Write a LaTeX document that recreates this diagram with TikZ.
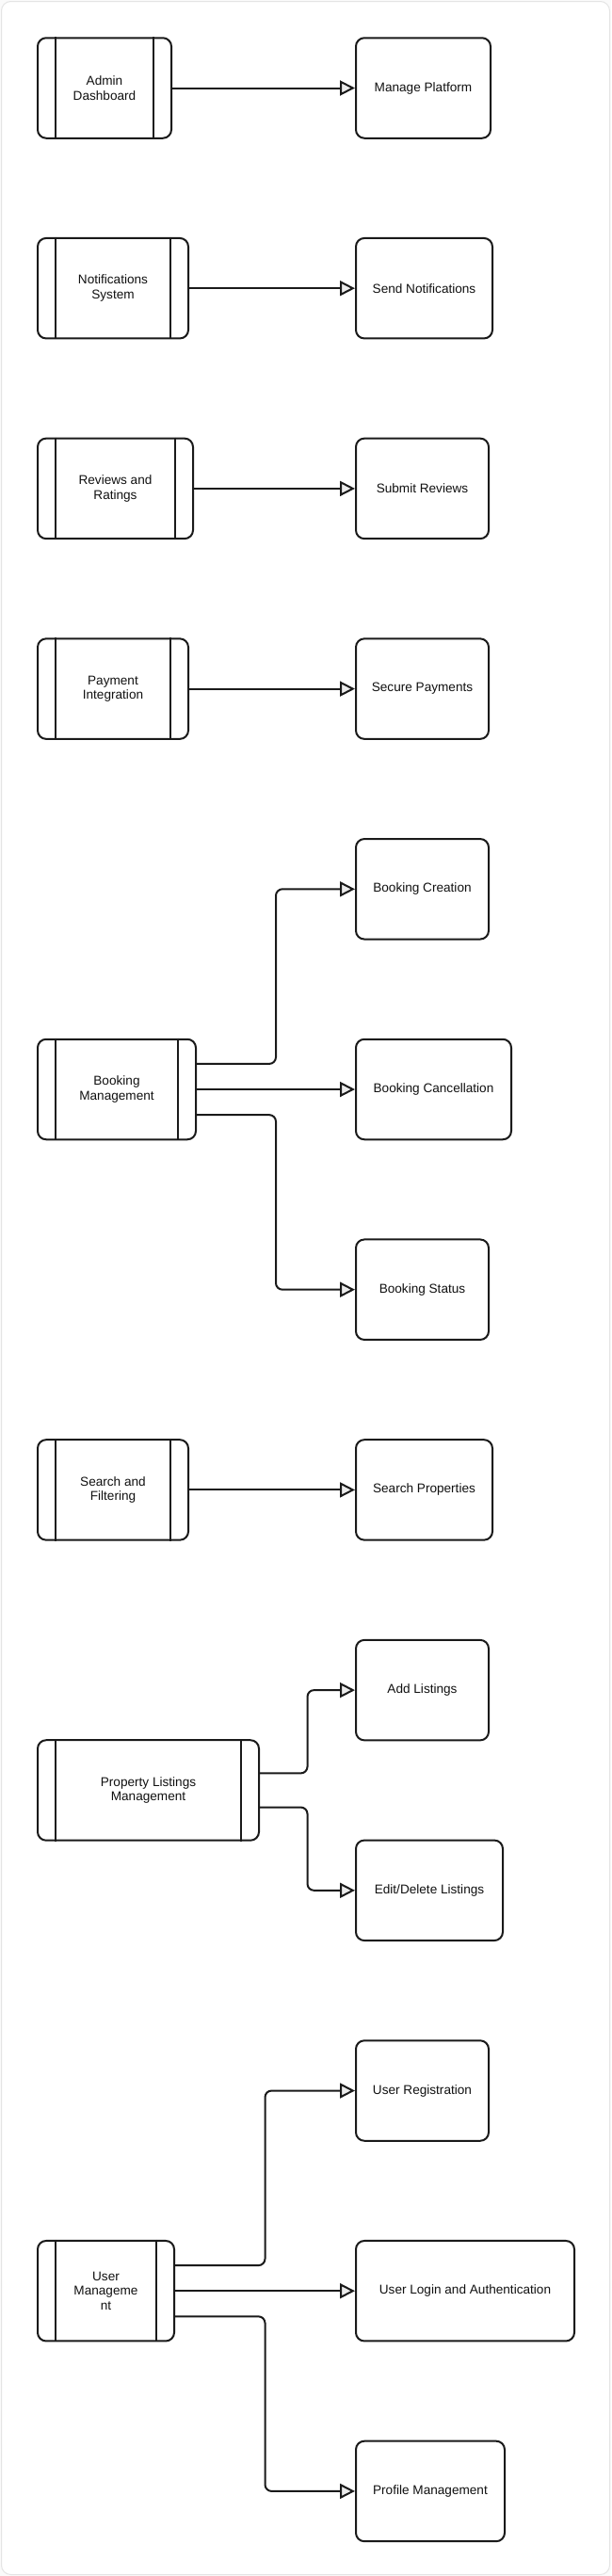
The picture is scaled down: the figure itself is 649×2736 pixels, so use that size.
\documentclass[tikz,border=0pt]{standalone}
\usepackage{fontspec}
\setmainfont{Liberation Sans}
\usetikzlibrary{arrows.meta,calc}
\definecolor{linec}{HTML}{1A1A1A}
\definecolor{textc}{HTML}{111111}
\definecolor{arrowc}{HTML}{EBEBEB}
\definecolor{framec}{HTML}{E4E4E4}
\newcommand\lblfont{\fontsize{13.6}{15.5}\selectfont}
\tikzset{
  procbox/.style={draw=linec, line width=2pt, rounded corners=9pt, fill=white,
    minimum height=106.5pt, inner sep=0pt, align=center, font=\lblfont, text=textc},
  taskbox/.style={draw=linec, line width=2pt, rounded corners=9pt, fill=white,
    minimum height=106.5pt, inner sep=0pt, align=center, font=\lblfont, text=textc},
  innerl/.style={draw=linec, line width=1.6pt},
  conn/.style={draw=linec, line width=2pt, rounded corners=7pt,
    -{Triangle[length=16pt,width=16pt,fill=arrowc,sharp]}}
}
\newcommand\mkproc[4]{%
  \node[procbox, minimum width=#2pt] (#1) at ({40+#2/2},#3) {#4};
  \draw[innerl] ([xshift=20pt]#1.north west) -- ([xshift=20pt]#1.south west);
  \draw[innerl] ([xshift=-20pt]#1.north east) -- ([xshift=-20pt]#1.south east);}
\newcommand\mktask[4]{%
  \node[taskbox, minimum width=#2pt] (#1) at ({378+#2/2},#3) {#4};}
\begin{document}
\begin{tikzpicture}[x=1pt,y=-1pt]
\useasboundingbox (0,0) rectangle (649,2736);
\fill[white!98!black] (0,0) rectangle (649,2736);
\draw[draw=framec, fill=white, line width=1pt, rounded corners=10pt] (1.5,1.5) rectangle (647.5,2734.5);

% row 1
\mkproc{ad}{142}{93.5}{Admin\\Dashboard}
\mktask{mp}{143}{93.5}{Manage Platform}
\draw[conn] (ad.east) -- (mp.west);

% row 2
\mkproc{ns}{160}{306.2}{Notifications\\System}
\mktask{sn}{145}{306.2}{Send Notifications}
\draw[conn] (ns.east) -- (sn.west);

% row 3
\mkproc{rr}{165}{518.9}{Reviews and\\Ratings}
\mktask{sr}{141}{518.9}{Submit Reviews}
\draw[conn] (rr.east) -- (sr.west);

% row 4
\mkproc{pi}{160}{731.6}{Payment\\Integration}
\mktask{sp}{141}{731.6}{Secure Payments}
\draw[conn] (pi.east) -- (sp.west);

% booking
\mkproc{bm}{168}{1157}{Booking\\Management}
\mktask{bc}{141}{944.3}{Booking Creation}
\mktask{bx}{165}{1157}{Booking Cancellation}
\mktask{bs}{141}{1369.7}{Booking Status}
\coordinate (bmA) at ($(bm.north east)!0.25!(bm.south east)$);
\coordinate (bmC) at ($(bm.north east)!0.75!(bm.south east)$);
\coordinate (bmX) at (293,0);
\draw[conn] (bmA) -- (bmA -| bmX) |- (bc.west);
\draw[conn] (bm.east) -- (bx.west);
\draw[conn] (bmC) -- (bmC -| bmX) |- (bs.west);

% search
\mkproc{sf}{160}{1582.4}{Search and\\Filtering}
\mktask{spr}{145}{1582.4}{Search Properties}
\draw[conn] (sf.east) -- (spr.west);

% property listings
\mkproc{pl}{235}{1901.45}{Property Listings\\Management}
\mktask{al}{141}{1795.1}{Add Listings}
\mktask{el}{156}{2007.8}{Edit/Delete Listings}
\coordinate (plA) at ($(pl.north east)!0.3333!(pl.south east)$);
\coordinate (plB) at ($(pl.north east)!0.6667!(pl.south east)$);
\coordinate (plX) at (326.5,0);
\draw[conn] (plA) -- (plA -| plX) |- (al.west);
\draw[conn] (plB) -- (plB -| plX) |- (el.west);

% user management
\mkproc{um}{145}{2433.2}{User\\Manageme\\nt}
\mktask{ur}{141}{2220.5}{User Registration}
\mktask{ul}{232}{2433.2}{User Login and Authentication}
\mktask{pm}{158}{2645.9}{Profile Management}
\coordinate (umA) at ($(um.north east)!0.25!(um.south east)$);
\coordinate (umC) at ($(um.north east)!0.75!(um.south east)$);
\coordinate (umX) at (281.5,0);
\draw[conn] (umA) -- (umA -| umX) |- (ur.west);
\draw[conn] (um.east) -- (ul.west);
\draw[conn] (umC) -- (umC -| umX) |- (pm.west);
\end{tikzpicture}
\end{document}
